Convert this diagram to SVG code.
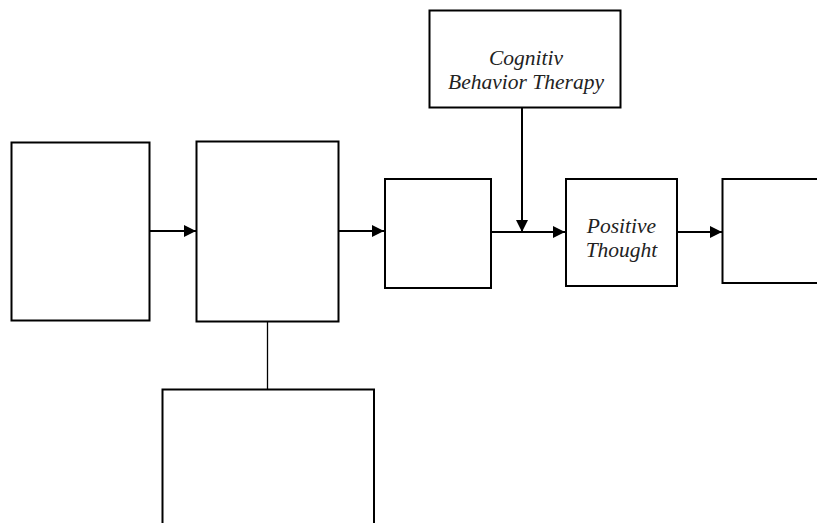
<svg xmlns="http://www.w3.org/2000/svg" width="817" height="523" viewBox="0 0 817 523">
<defs>
<style>
.box{fill:#fff;stroke:#000;stroke-width:2}
.conn{stroke:#000;stroke-width:2;fill:none}
.thin{stroke:#000;stroke-width:1.3;fill:none}
.lbl{font-family:"Liberation Serif","Times New Roman",serif;font-style:italic;font-size:21.5px;fill:#222;text-anchor:middle}
</style>
<marker id="ah" viewBox="0 0 12 12" refX="12" refY="6" markerWidth="12" markerHeight="12" markerUnits="userSpaceOnUse" orient="auto">
<path d="M0,0 L12,6 L0,12 Z" fill="#000"/>
</marker>
</defs>
<rect width="817" height="523" fill="#fff"/>
<g id="connectors">
<line class="conn" x1="150" y1="231" x2="196" y2="231" marker-end="url(#ah)"/>
<line class="conn" x1="336" y1="231" x2="384" y2="231" marker-end="url(#ah)"/>
<line class="conn" x1="491" y1="232" x2="565" y2="232" marker-end="url(#ah)"/>
<line class="conn" x1="522" y1="107" x2="522" y2="232" marker-end="url(#ah)"/>
<line class="conn" x1="677" y1="232" x2="722" y2="232" marker-end="url(#ah)"/>
<line class="thin" x1="267.5" y1="321" x2="267.5" y2="389"/>
</g>
<g id="node1"><rect class="box" x="11.5" y="142.5" width="138" height="178"/></g>
<g id="node2"><rect class="box" x="196.5" y="141.5" width="142" height="180"/></g>
<g id="node3"><rect class="box" x="385" y="179" width="106" height="109"/></g>
<g id="cbt"><rect class="box" x="429.5" y="10.5" width="191" height="97"/>
<text class="lbl" x="526" y="65">Cognitiv</text>
<text class="lbl" x="526" y="89">Behavior Therapy</text></g>
<g id="positive"><rect class="box" x="566" y="179" width="111" height="107"/>
<text class="lbl" x="621.5" y="233">Positive</text>
<text class="lbl" x="621.5" y="257">Thought</text></g>
<g id="node6"><rect class="box" x="722.5" y="179" width="100" height="104"/></g>
<g id="node7"><rect class="box" x="162.5" y="389.5" width="211.5" height="150"/></g>
</svg>
